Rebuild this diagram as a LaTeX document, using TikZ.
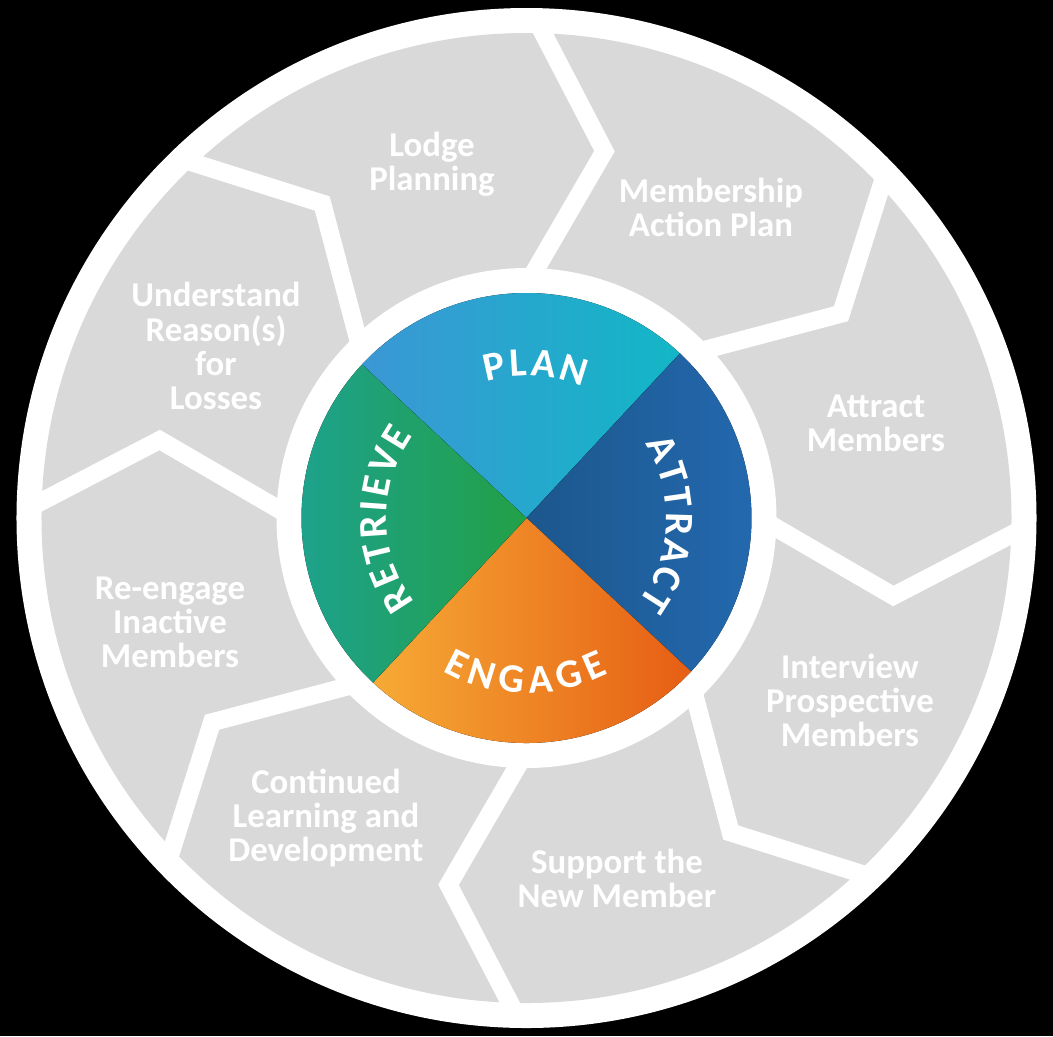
\documentclass[tikz,border=0pt]{standalone}
\usepackage{fontspec}
\setmainfont{Carlito}
\usetikzlibrary{decorations.text}

\definecolor{cyclegrey}{HTML}{D9D9D9}
\definecolor{planL}{HTML}{3B97D5}
\definecolor{planR}{HTML}{12B7C6}
\definecolor{attractL}{HTML}{1C578C}
\definecolor{attractR}{HTML}{246AB2}
\definecolor{engageL}{HTML}{F6AA35}
\definecolor{engageR}{HTML}{E65E14}
\definecolor{retrieveL}{HTML}{1DA293}
\definecolor{retrieveR}{HTML}{22A047}

\newcommand\hubfont{\bfseries\fontsize{23}{23}\selectfont\kern1.5pt}

\begin{document}
\begin{tikzpicture}[
  x=0.02cm, y=0.02cm,
  stage/.style={
    text=white, align=center,
    font=\bfseries\fontsize{19.8}{19.4}\selectfont
  },
  sepline/.style={draw=white, line width=0.36cm, line join=miter},
  quad/.style={draw=none},
  arclabel/.style={
    decorate,
    decoration={text along path, text align=center, text color=white}
  }
]

% background and rings
\fill[black] (-526.5,-518) rectangle (526.5,518);
\fill[white] (0,0) circle[radius=510];
\fill[cyclegrey] (0,0) circle[radius=485];

% chevron separators
\foreach \a in {-1,44,...,314}
  \draw[sepline] (\a:500) -- ({\a-11}:375) -- (\a:240);

\fill[white] (0,0) circle[radius=250];

% hub quadrants
\fill[quad, left color=planL, right color=planR]
  (0,0) -- (47:225) arc[start angle=47, end angle=137, radius=225] -- cycle;
\fill[quad, left color=attractL, right color=attractR]
  (0,0) -- (-43:225) arc[start angle=-43, end angle=47, radius=225] -- cycle;
\fill[quad, left color=engageL, right color=engageR]
  (0,0) -- (227:225) arc[start angle=227, end angle=317, radius=225] -- cycle;
\fill[quad, left color=retrieveL, right color=retrieveR]
  (0,0) -- (137:225) arc[start angle=137, end angle=227, radius=225] -- cycle;

% hub labels
\path[arclabel, decoration={text={|\hubfont|PLAN}}]
  (132:142) arc[start angle=132, end angle=42, radius=142];
\path[arclabel, decoration={text={|\hubfont|ATTRACT}}]
  (43:140) arc[start angle=43, end angle=-47, radius=140];
\path[arclabel, decoration={text={|\hubfont\kern2pt|ENGAGE}}]
  (223.5:175) arc[start angle=223.5, end angle=313.5, radius=175];
\path[arclabel, decoration={text={|\hubfont|RETRIEVE}}]
  (226:140) arc[start angle=226, end angle=136, radius=140];

% cycle steps
\node[stage] (lodge)     at (-94.5,354)  {Lodge\\Planning};
\node[stage] (map)       at (184.5,311)  {Membership\\Action Plan};
\node[stage] (attract)   at (349.5,95)   {Attract\\Members};
\node[stage] (interview) at (323.5,-182) {Interview\\Prospective\\Members};
\node[stage] (support)   at (90.5,-360)  {Support the\\New Member};
\node[stage] (learning)  at (-200.5,-300) {Continued\\Learning and\\Development};
\node[stage] (reengage)  at (-356.5,-104) {Re-engage\\Inactive\\Members};
\node[stage] (losses)    at (-310.5,172) {Understand\\Reason(s)\\for\\Losses};

\end{tikzpicture}
\end{document}
